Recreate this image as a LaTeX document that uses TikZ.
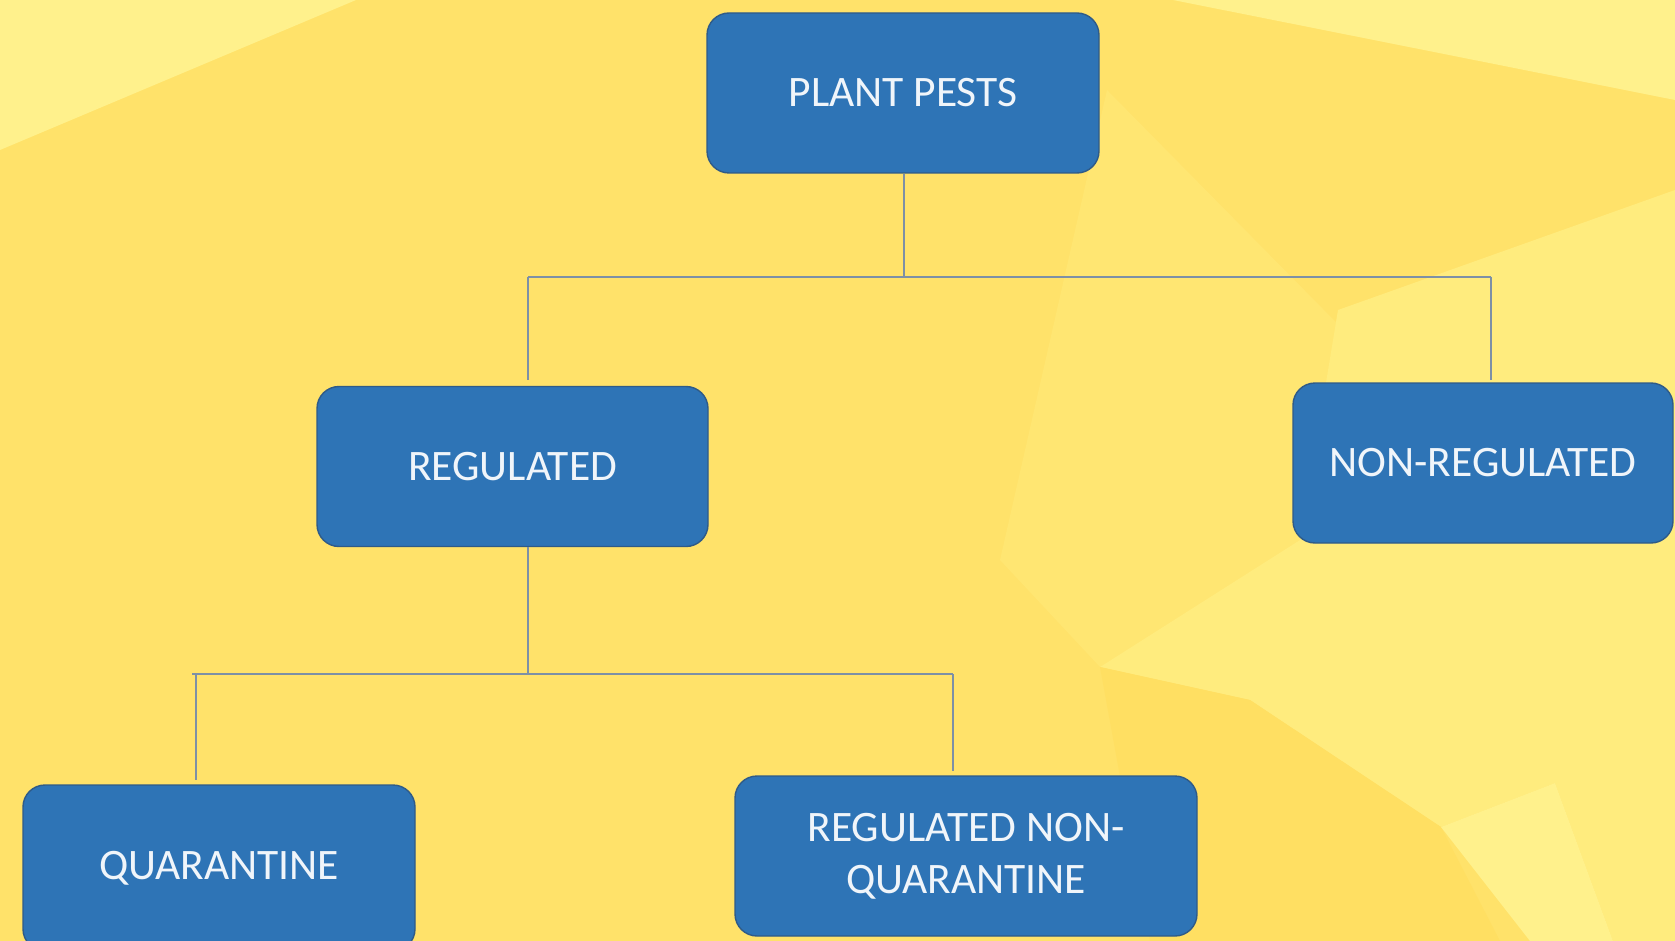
\documentclass[tikz,border=0pt]{standalone}
\usepackage{fontspec}
\setmainfont{Carlito}
\definecolor{bgbase}{HTML}{FFE26A}
\definecolor{bglight}{HTML}{FFF18C}
\definecolor{bgmid}{HTML}{FFEC7E}
\definecolor{bgsoft}{HTML}{FFE672}
\definecolor{bgdark}{HTML}{FFDF62}
\definecolor{boxfill}{HTML}{2E74B6}
\definecolor{boxline}{HTML}{2F5B88}
\definecolor{connc}{HTML}{7D90A6}
\definecolor{txtc}{HTML}{F0F5FA}
\tikzset{
  pbox/.style={draw=boxline, line width=1.4pt, fill=boxfill, rounded corners=22pt,
    text=txtc, font=\fontsize{43.5}{52}\selectfont, align=center,
    inner sep=0pt, minimum height=160pt},
  conn/.style={draw=connc, line width=1.8pt}
}
\begin{document}
\begin{tikzpicture}[x=1pt,y=-1pt]
% background
\fill[bgbase] (0,0) rectangle (1675,941);
\useasboundingbox (0,0) rectangle (1675,941);
\fill[bglight] (0,0) -- (356,0) -- (0,150) -- cycle;
\fill[bglight] (1173,0) -- (1675,0) -- (1675,100) -- cycle;
\fill[bgsoft] (1107,90) -- (1393,380) -- (1300,540) -- (1100,667) -- (1000,560) -- cycle;
\fill[bgmid] (1338,310) -- (1675,190) -- (1675,941) -- (1613,941) -- (1555,783) -- (1441,827) -- (1250,700) -- (1100,667) -- (1300,540) -- cycle;
\fill[bgdark] (1100,667) -- (1250,700) -- (1441,827) -- (1500,941) -- (1150,941) -- cycle;
\fill[bglight] (1441,827) -- (1555,783) -- (1613,941) -- (1530,941) -- cycle;
% nodes
\node[pbox, minimum width=392pt] (pp) at (903,93) {PLANT PESTS};
\node[pbox, minimum width=391pt] (reg) at (512.5,466.5) {REGULATED};
\node[pbox, minimum width=380pt] (nreg) at (1483,463) {NON-REGULATED};
\node[pbox, minimum width=392pt, minimum height=166pt] (quar) at (219,868) {QUARANTINE};
\node[pbox, minimum width=462pt] (rnq) at (966,856) {REGULATED NON-\\QUARANTINE};
% junction coordinates
\coordinate (j1) at (904,277);
\coordinate (j1l) at (528,277);
\coordinate (j1r) at (1491,277);
\coordinate (e1l) at (528,380);
\coordinate (e1r) at (1491,380);
\coordinate (s2) at (528,547);
\coordinate (j2) at (528,674);
\coordinate (j2l) at (192,674);
\coordinate (j2r) at (953,674);
\coordinate (v2l) at (196,674);
\coordinate (e2l) at (196,780);
\coordinate (e2r) at (953,771);
% connectors
\draw[conn] (pp.south -| j1) -- (j1);
\draw[conn] (j1l) -- (j1r);
\draw[conn] (j1l) -- (e1l);
\draw[conn] (j1r) -- (e1r);
\draw[conn] (reg.south -| s2) -- (j2);
\draw[conn] (j2l) -- (j2r);
\draw[conn] (v2l) -- (e2l);
\draw[conn] (j2r) -- (e2r);
\end{tikzpicture}
\end{document}
